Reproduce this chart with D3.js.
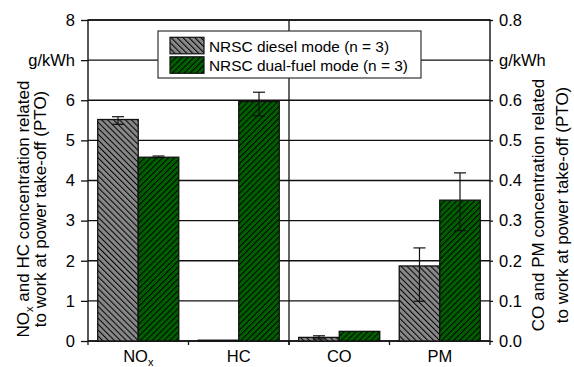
<!DOCTYPE html>
<html>
<head>
<meta charset="utf-8">
<script src="https://cdn.jsdelivr.net/npm/d3@7"></script>
<style>
	body { margin: 0; background: #fff; }
	text { font-family: "Liberation Sans", Arial, sans-serif; fill: #000; }
</style>
</head>
<body>
<div id="root"></div>
<script>
const categories = ['NOx', 'HC', 'CO', 'PM']
const seriesNames = ['NRSC diesel mode (n = 3)', 'NRSC dual-fuel mode (n = 3)']
// NOx and HC on left axis (g/kWh), CO and PM on right axis (g/kWh)
const dieselValues = [5.52, 0.02, 0.009, 0.187]
const dualFuelValues = [4.58, 5.97, 0.024, 0.351]
const dieselLow = [5.40, null, 0.005, 0.099]
const dieselHigh = [5.59, null, 0.013, 0.232]
const dualFuelLow = [4.57, 5.61, null, 0.275]
const dualFuelHigh = [4.61, 6.20, null, 0.419]
const leftTicks = [0, 1, 2, 3, 4, 5, 6, 7, 8]
const rightTicks = [0, 0.1, 0.2, 0.3, 0.4, 0.5, 0.6, 0.7, 0.8]
const unitLabel = 'g/kWh'

const C = {
	width: 574,
	height: 367,
	left: 88,
	right: 490,
	top: 20,
	bottom: 341,
	font: 16.5,
	titleFont: 17,
}

const svg = d3.select('#root').append('svg')
	.attr('width', C.width)
	.attr('height', C.height)

const defs = svg.append('defs')
function hatch(id, fill, angle) {
	const p = defs.append('pattern')
		.attr('id', id)
		.attr('patternUnits', 'userSpaceOnUse')
		.attr('width', 4.2)
		.attr('height', 10)
		.attr('patternTransform', `rotate(${angle})`)
	p.append('rect').attr('width', 4.2).attr('height', 10).attr('fill', fill)
	p.append('line')
		.attr('x1', 0.5).attr('x2', 0.5).attr('y1', 0).attr('y2', 10)
		.attr('stroke', '#000').attr('stroke-width', 1)
}
hatch('hatchDiesel', '#888', -45)
hatch('hatchDual', '#006000', 45)
const fills = ['url(#hatchDiesel)', 'url(#hatchDual)']

const data = categories.map((c, i) => ({
	cat: c,
	side: i < 2 ? 'left' : 'right',
	vals: [
		{ s: 0, v: dieselValues[i], lo: dieselLow[i], hi: dieselHigh[i] },
		{ s: 1, v: dualFuelValues[i], lo: dualFuelLow[i], hi: dualFuelHigh[i] },
	]
}))

const x0 = d3.scaleBand().domain(categories).range([C.left, C.right]).padding(0)
const x1 = d3.scaleBand().domain([0, 1]).range([0, x0.bandwidth()]).paddingInner(0).paddingOuter(0.24)
const yL = d3.scaleLinear().domain([0, 8]).range([C.bottom, C.top])
const yR = d3.scaleLinear().domain([0, 0.8]).range([C.bottom, C.top])

// -- grid --
svg.append('g')
	.selectAll('line')
	.data(leftTicks)
	.join('line')
	.attr('x1', C.left).attr('x2', C.right)
	.attr('y1', d => yL(d)).attr('y2', d => yL(d))
	.attr('stroke', '#111').attr('stroke-width', 1.3)

// middle separator between the two scales
svg.append('line')
	.attr('x1', x0('CO')).attr('x2', x0('CO'))
	.attr('y1', C.top).attr('y2', C.bottom + 4)
	.attr('stroke', '#111').attr('stroke-width', 1.3)

// -- axes --
const axisL = d3.axisLeft(yL).tickValues(leftTicks).tickSize(7).tickPadding(6)
	.tickFormat(d => d === 7 ? unitLabel : d3.format('d')(d))
const axisR = d3.axisRight(yR).tickValues(rightTicks).tickSize(3).tickPadding(6)
	.tickFormat(d => Math.abs(d - 0.7) < 1e-9 ? unitLabel : d3.format('.1f')(d))

const gL = svg.append('g').attr('transform', `translate(${C.left},0)`).call(axisL)
const gR = svg.append('g').attr('transform', `translate(${C.right},0)`).call(axisR)
for (const g of [gL, gR]) {
	g.select('.domain').remove()
	g.selectAll('line').attr('stroke', '#111').attr('stroke-width', 1.3)
	g.selectAll('text').attr('font-size', C.font).attr('fill', '#000')
		.style('font-family', '"Liberation Sans", Arial, sans-serif')
}

// frame
svg.append('rect')
	.attr('x', C.left).attr('y', C.top)
	.attr('width', C.right - C.left).attr('height', C.bottom - C.top)
	.attr('fill', 'none').attr('stroke', '#111').attr('stroke-width', 1.4)

// x ticks at group boundaries
svg.append('g')
	.selectAll('line')
	.data(categories.concat(['end']))
	.join('line')
	.attr('x1', d => d === 'end' ? C.right : x0(d))
	.attr('x2', d => d === 'end' ? C.right : x0(d))
	.attr('y1', C.bottom).attr('y2', C.bottom + 4)
	.attr('stroke', '#111').attr('stroke-width', 1.3)

// -- bars --
const groups = svg.append('g').selectAll('g')
	.data(data)
	.join('g')
	.attr('transform', d => `translate(${x0(d.cat)},0)`)

groups.selectAll('rect')
	.data(d => d.vals.map(v => ({ ...v, y: d.side === 'left' ? yL : yR })))
	.join('rect')
	.attr('x', d => x1(d.s))
	.attr('y', d => d.y(d.v))
	.attr('width', x1.bandwidth())
	.attr('height', d => C.bottom - d.y(d.v))
	.attr('fill', d => fills[d.s])
	.attr('stroke', '#111').attr('stroke-width', 1.3)

// -- error bars --
const err = groups.selectAll('g.err')
	.data(d => d.vals.filter(v => v.lo != null).map(v => ({ ...v, y: d.side === 'left' ? yL : yR })))
	.join('g')
	.attr('class', 'err')
	.attr('stroke', '#111').attr('stroke-width', 1.2)
err.append('line')
	.attr('x1', d => x1(d.s) + x1.bandwidth() / 2).attr('x2', d => x1(d.s) + x1.bandwidth() / 2)
	.attr('y1', d => d.y(d.lo)).attr('y2', d => d.y(d.hi))
for (const k of ['lo', 'hi']) {
	err.append('line')
		.attr('x1', d => x1(d.s) + x1.bandwidth() / 2 - 6).attr('x2', d => x1(d.s) + x1.bandwidth() / 2 + 6)
		.attr('y1', d => d.y(d[k])).attr('y2', d => d.y(d[k]))
}

// -- x labels --
const xl = svg.append('g').selectAll('text')
	.data(categories)
	.join('text')
	.attr('x', d => x0(d) + x0.bandwidth() / 2)
	.attr('y', 362)
	.attr('text-anchor', 'middle')
	.attr('font-size', C.font)
xl.each(function(d) {
	const t = d3.select(this)
	if (d === 'NOx') {
		t.append('tspan').text('NO')
		t.append('tspan').attr('font-size', 11).attr('dy', 4).text('x')
	} else {
		t.text(d)
	}
})

// -- axis titles --
function title(cx, baselines, lines) {
	lines.forEach((parts, i) => {
		const t = svg.append('text')
			.attr('transform', `translate(${baselines[i]},${cx}) rotate(-90)`)
			.attr('text-anchor', 'middle')
			.attr('font-size', C.titleFont)
		parts.forEach(p => {
			if (p.sub) {
				t.append('tspan').attr('font-size', 11).attr('dy', 4).text(p.t)
			} else {
				t.append('tspan').attr('dy', p.after ? -4 : 0).text(p.t)
			}
		})
	})
}
title(209, [29, 45.5], [
	[{ t: 'NO' }, { t: 'x', sub: true }, { t: ' and HC concentration related', after: true }],
	[{ t: 'to work at power take-off (PTO)' }],
])
title(205, [544, 567.5], [
	[{ t: 'CO and PM concentration related' }],
	[{ t: 'to work at power take-off (PTO)' }],
])

// -- legend --
const legend = svg.append('g').attr('transform', 'translate(158,31)')
legend.append('rect')
	.attr('width', 263).attr('height', 47)
	.attr('fill', '#fff').attr('stroke', '#333').attr('stroke-width', 1.2)
const li = legend.selectAll('g')
	.data(seriesNames)
	.join('g')
	.attr('transform', (d, i) => `translate(12,${6.3 + i * 19.5})`)
li.append('rect')
	.attr('width', 34).attr('height', 16.5)
	.attr('fill', (d, i) => fills[i])
	.attr('stroke', '#111').attr('stroke-width', 1.2)
li.append('text')
	.attr('x', 39).attr('y', 14.5)
	.attr('font-size', 15.4)
	.text(d => d)
</script>
</body>
</html>
